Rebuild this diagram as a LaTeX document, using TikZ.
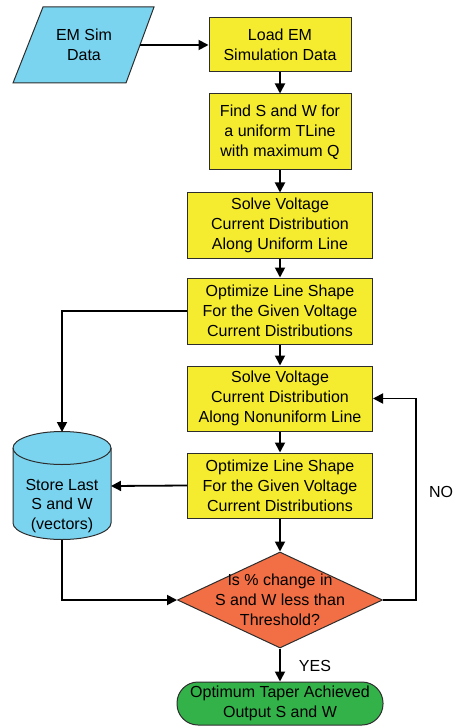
\documentclass[tikz,border=0pt]{standalone}
\usepackage{fontspec}
\setmainfont{Liberation Sans}
\usetikzlibrary{shapes.geometric,arrows.meta}
\definecolor{boxyellow}{RGB}{245,236,48}
\definecolor{datacyan}{RGB}{122,212,240}
\definecolor{decorange}{RGB}{242,110,68}
\definecolor{endgreen}{RGB}{52,178,74}
\definecolor{edgegray}{RGB}{45,45,45}
\tikzset{
  x=1pt, y=-1pt,
  every node/.style={font=\fontsize{16}{19.8}\selectfont, align=center, text=black},
  procbox/.style={draw=edgegray, line width=1pt, fill=boxyellow, inner sep=0pt},
  flow/.style={line width=1.8pt, -{Triangle[length=10pt,width=10pt]}},
  plain/.style={line width=1.8pt}
}
\begin{document}
\begin{tikzpicture}
\useasboundingbox (0,0) rectangle (454,727);

% input data (parallelogram)
\path[draw=edgegray, line width=1pt, fill=datacyan]
  (43,7) -- (154,7) -- (126,83) -- (13,83) -- cycle;
\node (em) at (84,45) {EM Sim\\Data};
\coordinate (emR) at (140,45);

% process steps
\node[procbox, minimum width=142pt, minimum height=54pt] (load) at (280,45) {Load EM\\Simulation Data};
\node[procbox, minimum width=142pt, minimum height=76pt] (find) at (280,132) {Find S and W for\\a uniform TLine\\with maximum Q};
\node[procbox, minimum width=185pt, minimum height=65pt] (solve1) at (280,225.5) {Solve Voltage\\Current Distribution\\Along Uniform Line};
\node[procbox, minimum width=185pt, minimum height=66pt] (opt1) at (280,311) {Optimize Line Shape\\For the Given Voltage\\Current Distributions};
\node[procbox, minimum width=185pt, minimum height=65pt] (solve2) at (280,398.5) {Solve Voltage\\Current Distribution\\Along Nonuniform Line};
\node[procbox, minimum width=185pt, minimum height=65pt] (opt2) at (280,485.5) {Optimize Line Shape\\For the Given Voltage\\Current Distributions};

% decision
\node[diamond, draw=edgegray, line width=1pt, fill=decorange, minimum width=205pt, minimum height=96pt, inner sep=0pt] (dec) at (280,600) {};
\node at (280,600) {Is \% change in\\S and W less than\\Threshold?};

% terminal
\node[draw=edgegray, line width=1pt, fill=endgreen, rounded corners=21pt, minimum width=206pt, minimum height=43pt, inner sep=0pt] (done) at (280,703.5) {Optimum Taper Achieved\\Output S and W};

% storage (cylinder)
\path[draw=edgegray, line width=1pt, fill=datacyan]
  (13,448) -- (13,523) arc[start angle=180, end angle=360, x radius=49, y radius=-16.5]
  -- (111,448) arc[start angle=0, end angle=180, x radius=49, y radius=-16.5] -- cycle;
\draw[edgegray, line width=1pt] (13,448) arc[start angle=180, end angle=360, x radius=49, y radius=-16.5];
\node[minimum width=98pt, minimum height=108pt, inner sep=0pt] (store) at (62,486) {};
\node at (62,506) {Store Last\\S and W\\(vectors)};
\coordinate (storeTop) at (62,432);
\coordinate (storeBot) at (62,540);
\coordinate (storeR) at (111,486);

% connectors
\draw[flow] (emR) -- (load.west);
\draw[flow] (load) -- (find);
\draw[flow] (find) -- (solve1);
\draw[flow] (solve1) -- (opt1);
\draw[flow] (opt1) -- (solve2);
\draw[flow] (solve2) -- (opt2);
\draw[flow] (opt2) -- (dec.north);
\draw[flow] (dec.south) -- (done.north);
\draw[flow] (opt1.west) -| (storeTop);
\draw[flow] (opt2.west) -- (storeR);
\draw[flow] (storeBot) |- (dec.west);
\coordinate (loopR) at (416,600);
\draw[flow] (dec.east) -- (loopR) |- (solve2.east);

% branch labels
\node at (315,666) {YES};
\node at (441,492) {NO};
\end{tikzpicture}
\end{document}
